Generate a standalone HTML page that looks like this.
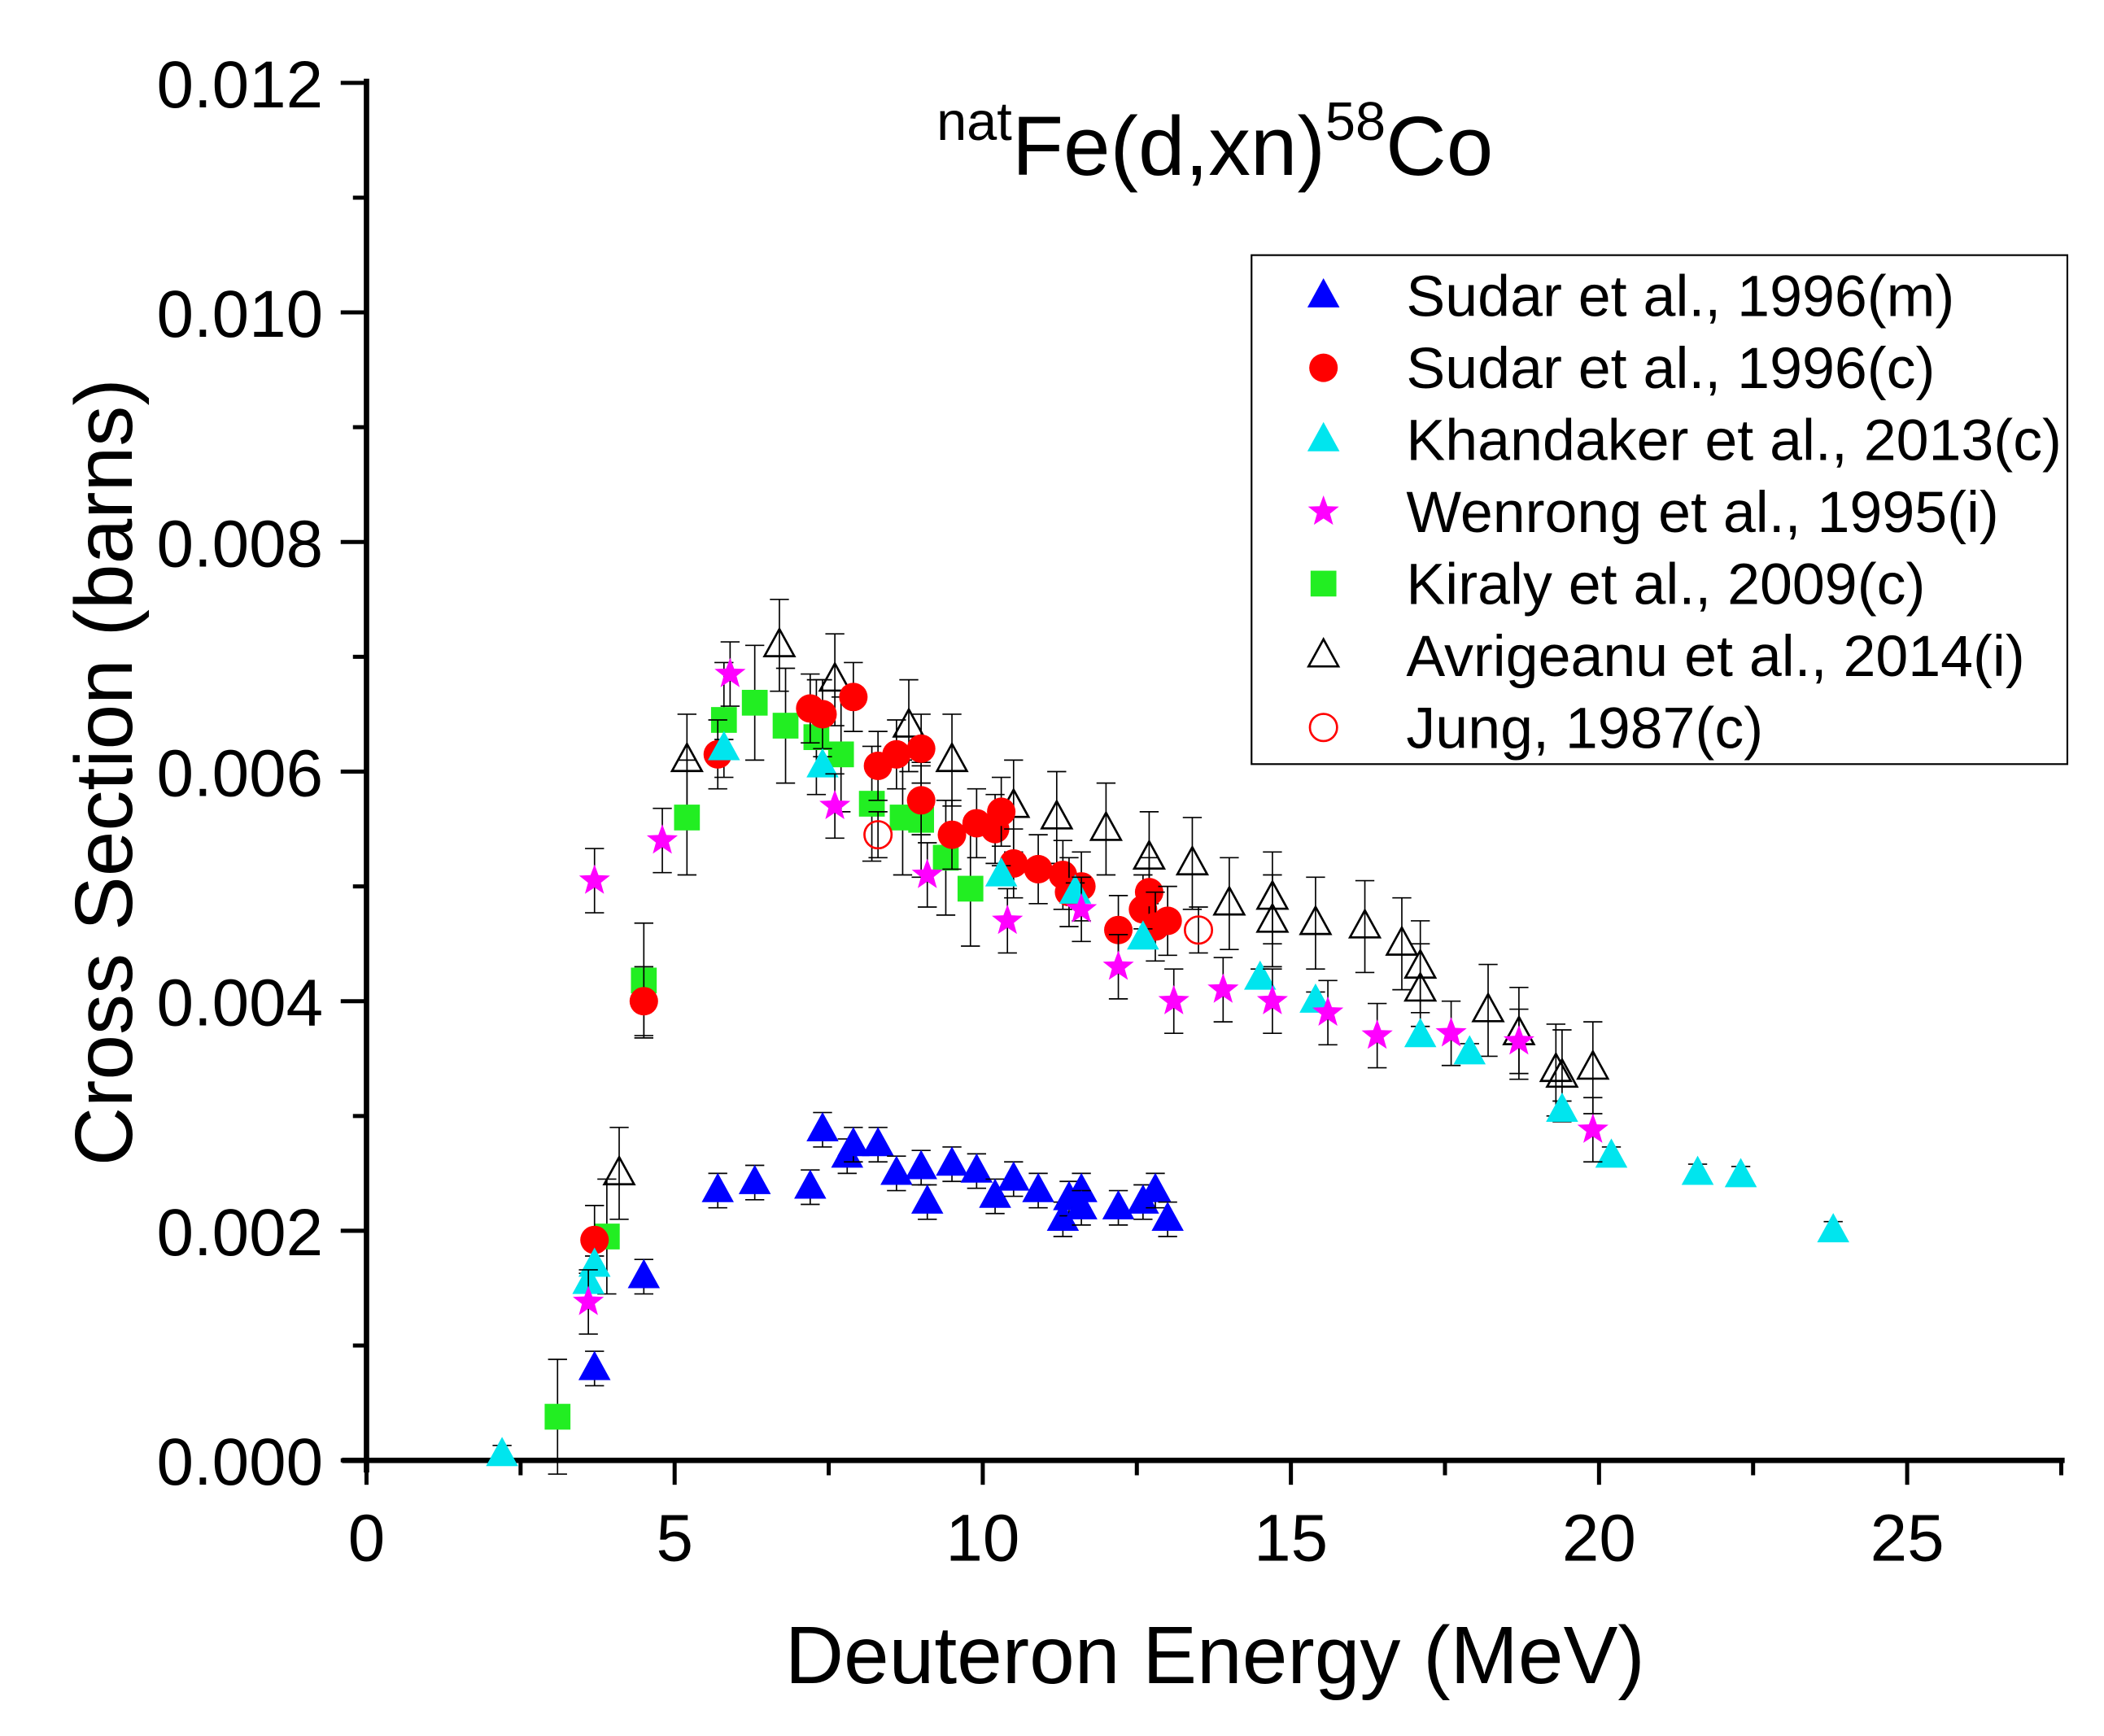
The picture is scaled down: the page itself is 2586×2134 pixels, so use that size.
<!DOCTYPE html>
<html><head><meta charset="utf-8"><style>
html,body{margin:0;padding:0;background:#fff}
svg{display:block}
text{font-family:"Liberation Sans",sans-serif;fill:#000}
</style></head><body>
<svg id="chart" width="2586" height="2134" viewBox="0 0 1550 1279.1" preserveAspectRatio="none" xmlns="http://www.w3.org/2000/svg">
<g id="axes"></g>
<g id="marks"></g>
<text x="895" y="129" font-size="62" text-anchor="middle"><tspan font-size="40" dy="-26">nat</tspan><tspan dy="26">Fe(d,xn)</tspan><tspan font-size="40" dy="-26">58</tspan><tspan dy="26">Co</tspan></text>
<text x="895" y="1240" font-size="60" text-anchor="middle">Deuteron Energy (MeV)</text>
<text x="0" y="0" font-size="60" text-anchor="middle" transform="translate(97,569) rotate(-90)">Cross Section (barns)</text>
<g id="legend"></g>
</svg>
<script>
const xTicks=[0,5,10,15,20,25];
const yTicks=[0,0.002,0.004,0.006,0.008,0.010,0.012];
const yTickLabels=["0.000","0.002","0.004","0.006","0.008","0.010","0.012"];
// values in mb (×0.001 barns)
const sudarM_E=[3.7,4.5,5.7,6.3,7.2,7.4,7.8,7.9,8.3,8.6,9.0,9.1,9.5,9.9,10.2,10.5,10.9,11.3,11.4,11.6,11.6,12.2,12.6,12.8,13.0];
const sudarM_S=[0.8,1.6,2.35,2.42,2.38,2.88,2.65,2.75,2.75,2.5,2.55,2.25,2.58,2.52,2.3,2.45,2.35,2.1,2.28,2.35,2.2,2.2,2.25,2.35,2.1];
const sudarC_E=[3.7,4.5,5.7,7.2,7.4,7.9,8.3,8.6,9.0,9.0,9.5,9.9,10.2,10.3,10.5,10.9,11.3,11.4,11.6,12.2,12.6,12.7,12.8,13.0];
const sudarC_S=[1.92,4.0,6.15,6.55,6.5,6.65,6.05,6.15,6.2,5.75,5.45,5.55,5.5,5.65,5.2,5.15,5.1,4.95,5.0,4.62,4.8,4.95,4.65,4.7];
const khan_E=[2.2,3.6,3.7,5.8,7.4,10.3,11.5,12.6,14.5,15.4,17.1,17.9,19.4,20.2,21.6,22.3,23.8];
const khan_S=[0.05,1.55,1.7,6.2,6.05,5.1,4.95,4.55,4.2,4.0,3.7,3.55,3.05,2.65,2.5,2.48,2.0];
const wen_E=[3.6,3.7,4.8,5.9,7.6,9.1,10.4,11.6,12.2,13.1,13.9,14.7,15.6,16.4,17.6,18.7,19.9];
const wen_S=[1.38,5.05,5.4,6.85,5.7,5.1,4.7,4.8,4.3,4.0,4.1,4.0,3.9,3.7,3.72,3.65,2.88];
const kir_E=[3.1,3.9,4.5,5.2,5.8,6.3,6.8,7.3,7.7,8.2,8.7,9.0,9.4,9.8];
const kir_S=[0.38,1.95,4.18,5.6,6.45,6.6,6.4,6.3,6.15,5.72,5.6,5.58,5.25,4.98];
const avr_E=[4.1,5.2,6.7,7.6,8.8,9.5,10.5,11.2,12.0,12.7,13.4,14.0,14.7,14.7,15.4,16.2,16.8,17.1,17.1,18.2,18.7,19.3,19.4,19.9];
const avr_S=[2.5,6.1,7.1,6.8,6.4,6.1,5.7,5.6,5.5,5.25,5.2,4.85,4.9,4.7,4.68,4.65,4.5,4.3,4.1,3.92,3.72,3.4,3.35,3.42];
const jung_E=[8.3,13.5];
const jung_S=[5.45,4.62];
const errM=0.15, errC=0.3, errK=0.08, errW=0.28, errKir=0.5, errA=0.4, errJ=0.2;

const NS="http://www.w3.org/2000/svg";
const X=v=>270+45.4*v;
const Y=v=>1076-84.58*v*1000;
const Ym=v=>Y(v/1000);
function el(tag,attrs,parent){const e=document.createElementNS(NS,tag);for(const k in attrs)e.setAttribute(k,attrs[k]);parent.appendChild(e);return e;}
const axes=document.getElementById('axes');
let a=el('line',{x1:270,y1:58,x2:270,y2:1085,stroke:'#000','stroke-width':4},axes);

a=el('line',{x1:252,y1:1076,x2:1521,y2:1076,stroke:'#000','stroke-width':4},axes);

yTicks.forEach((v,i)=>{
  const t=el('line',{x1:251,y1:Y(v),x2:270,y2:Y(v),stroke:'#000','stroke-width':3},axes);
  
  const l=el('text',{x:238,y:Y(v)+18,'font-size':49,'text-anchor':'end'},axes);l.textContent=yTickLabels[i];
  
  if(i<yTicks.length-1){const m=el('line',{x1:260,y1:Y(v+0.001),x2:270,y2:Y(v+0.001),stroke:'#000','stroke-width':3},axes);
  }
});
xTicks.forEach(v=>{
  const t=el('line',{x1:X(v),y1:1076,x2:X(v),y2:1094,stroke:'#000','stroke-width':3},axes);
  
  const l=el('text',{x:X(v),y:1150,'font-size':49,'text-anchor':'middle'},axes);l.textContent=String(v);
  
  const m=el('line',{x1:X(v+2.5),y1:1076,x2:X(v+2.5),y2:1087,stroke:'#000','stroke-width':3},axes);
  
});
const marks=document.getElementById('marks');
function marker(type,cx,cy,parent){
  let e;
  if(type==='tri'||type==='otri'||type==='ctri'){
    const c=type==='tri'?'#0000ff':type==='ctri'?'#00e5ee':'#fff';
    e=el('polygon',{points:`${cx},${cy-12} ${cx-11},${cy+8} ${cx+11},${cy+8}`,fill:type==='otri'?'none':c,stroke:type==='otri'?'#000':c,'stroke-width':type==='otri'?1.6:1},parent);
  }else if(type==='circ'){e=el('circle',{cx:cx,cy:cy,r:10.5,fill:'#f00'},parent);}
  else if(type==='ocirc'){e=el('circle',{cx:cx,cy:cy,r:10,fill:'none',stroke:'#f00','stroke-width':1.6},parent);}
  else if(type==='sq'){e=el('rect',{x:cx-9.5,y:cy-9.5,width:19,height:19,fill:'#22ee22'},parent);}
  else if(type==='star'){
    let p=[];for(let k=0;k<10;k++){const r=k%2?5:12,ang=-Math.PI/2+k*Math.PI/5;p.push((cx+r*Math.cos(ang)).toFixed(1)+','+(cy+r*Math.sin(ang)).toFixed(1));}
    e=el('polygon',{points:p.join(' '),fill:'#ff00ff'},parent);
  }
  return e;
}
function series(name,type,E,S,err){
  const g=el('g',{},marks);
  
  
  E.forEach((e,i)=>{
    const cx=X(e),cy=Ym(S[i]),t=Ym(S[i]+err),b=Ym(S[i]-err);
    const eb=el('path',{d:`M${cx},${t}V${b}M${cx-7},${t}H${cx+7}M${cx-7},${b}H${cx+7}`,stroke:'#000','stroke-width':1,fill:'none'},g);
    
    const m=marker(type,cx,cy,g);
    
  });
}
series('avrigeanu-2014-series','otri',avr_E,avr_S,errA);
series('kiraly-2009-series','sq',kir_E,kir_S,errKir);
series('sudar-1996c-series','circ',sudarC_E,sudarC_S,errC);
series('khandaker-2013-series','ctri',khan_E,khan_S,errK);
series('wenrong-1995-series','star',wen_E,wen_S,errW);
series('sudar-1996m-series','tri',sudarM_E,sudarM_S,errM);
series('jung-1987-series','ocirc',jung_E,jung_S,errJ);
const lg=document.getElementById('legend');
const box=el('rect',{x:922,y:188,width:601,height:375,fill:'#fff',stroke:'#000','stroke-width':1.3},lg);

const legTypes=['tri','circ','ctri','star','sq','otri','ocirc'];
const legLabels=['Sudar et al., 1996(m)','Sudar et al., 1996(c)','Khandaker et al., 2013(c)','Wenrong et al., 1995(i)','Kiraly et al., 2009(c)','Avrigeanu et al., 2014(i)','Jung, 1987(c)'];
legLabels.forEach((s,i)=>{
  const yy=218+i*53;
  const m=marker(legTypes[i],975,yy,lg);
  
  const t=el('text',{x:1036,y:yy+15,'font-size':43},lg);t.textContent=s;
  
});
</script>
</body></html>
